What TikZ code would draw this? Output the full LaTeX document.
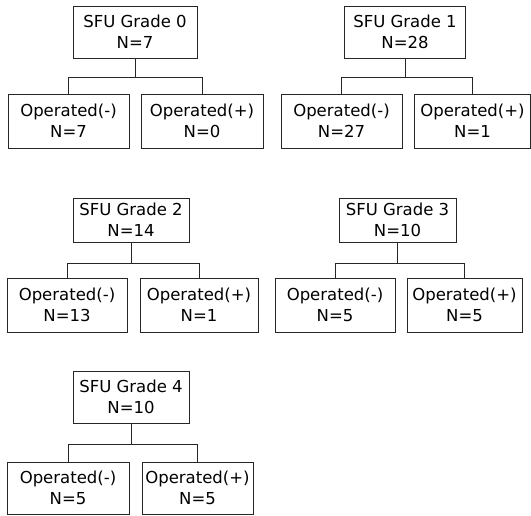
\documentclass[tikz,border=0pt]{standalone}
\usepackage{fontspec}
\setmainfont{DejaVu Sans}
\begin{document}
\begin{tikzpicture}[x=1pt,y=-1pt,
  box/.style={draw=black!85, line width=0.9pt, align=center, inner sep=0pt,
    font=\fontsize{16.5}{21}\selectfont},
  link/.style={draw=black!85, line width=0.8pt, line join=miter}]
\useasboundingbox (0,0) rectangle (531,515);
% Group 0
\node[box, minimum width=124, minimum height=52] (t0) at (135,32) {SFU Grade 0\\N=7};
\node[box, minimum width=121, minimum height=54] (l0) at (68.5,121) {Operated(-)\\N=7};
\node[box, minimum width=122, minimum height=54] (r0) at (202,121) {Operated(+)\\N=0};
\coordinate (b0) at (135,77);
\draw[link] (t0.south) -- (b0);
\draw[link] (l0.north) -- (l0.north |- b0) -- (r0.north |- b0) -- (r0.north);
% Group 1
\node[box, minimum width=121, minimum height=52] (t1) at (405,32) {SFU Grade 1\\N=28};
\node[box, minimum width=121, minimum height=54] (l1) at (341.5,121) {Operated(-)\\N=27};
\node[box, minimum width=116, minimum height=54] (r1) at (472.5,121) {Operated(+)\\N=1};
\coordinate (b1) at (405,77);
\draw[link] (t1.south) -- (b1);
\draw[link] (l1.north) -- (l1.north |- b1) -- (r1.north |- b1) -- (r1.north);
% Group 2
\node[box, minimum width=116, minimum height=44] (t2) at (131,220) {SFU Grade 2\\N=14};
\node[box, minimum width=120, minimum height=54] (l2) at (67,305) {Operated(-)\\N=13};
\node[box, minimum width=118, minimum height=54] (r2) at (199,305) {Operated(+)\\N=1};
\coordinate (b2) at (131,263);
\draw[link] (t2.south) -- (b2);
\draw[link] (l2.north) -- (l2.north |- b2) -- (r2.north |- b2) -- (r2.north);
% Group 3
\node[box, minimum width=117, minimum height=44] (t3) at (397.5,220) {SFU Grade 3\\N=10};
\node[box, minimum width=120, minimum height=54] (l3) at (335,305) {Operated(-)\\N=5};
\node[box, minimum width=115, minimum height=54] (r3) at (464.5,305) {Operated(+)\\N=5};
\coordinate (b3) at (397.5,263);
\draw[link] (t3.south) -- (b3);
\draw[link] (l3.north) -- (l3.north |- b3) -- (r3.north |- b3) -- (r3.north);
% Group 4
\node[box, minimum width=116, minimum height=52] (t4) at (131,397) {SFU Grade 4\\N=10};
\node[box, minimum width=122, minimum height=52] (l4) at (68,488) {Operated(-)\\N=5};
\node[box, minimum width=111, minimum height=52] (r4) at (197.5,488) {Operated(+)\\N=5};
\coordinate (b4) at (131,444);
\draw[link] (t4.south) -- (b4);
\draw[link] (l4.north) -- (l4.north |- b4) -- (r4.north |- b4) -- (r4.north);
\end{tikzpicture}
\end{document}
